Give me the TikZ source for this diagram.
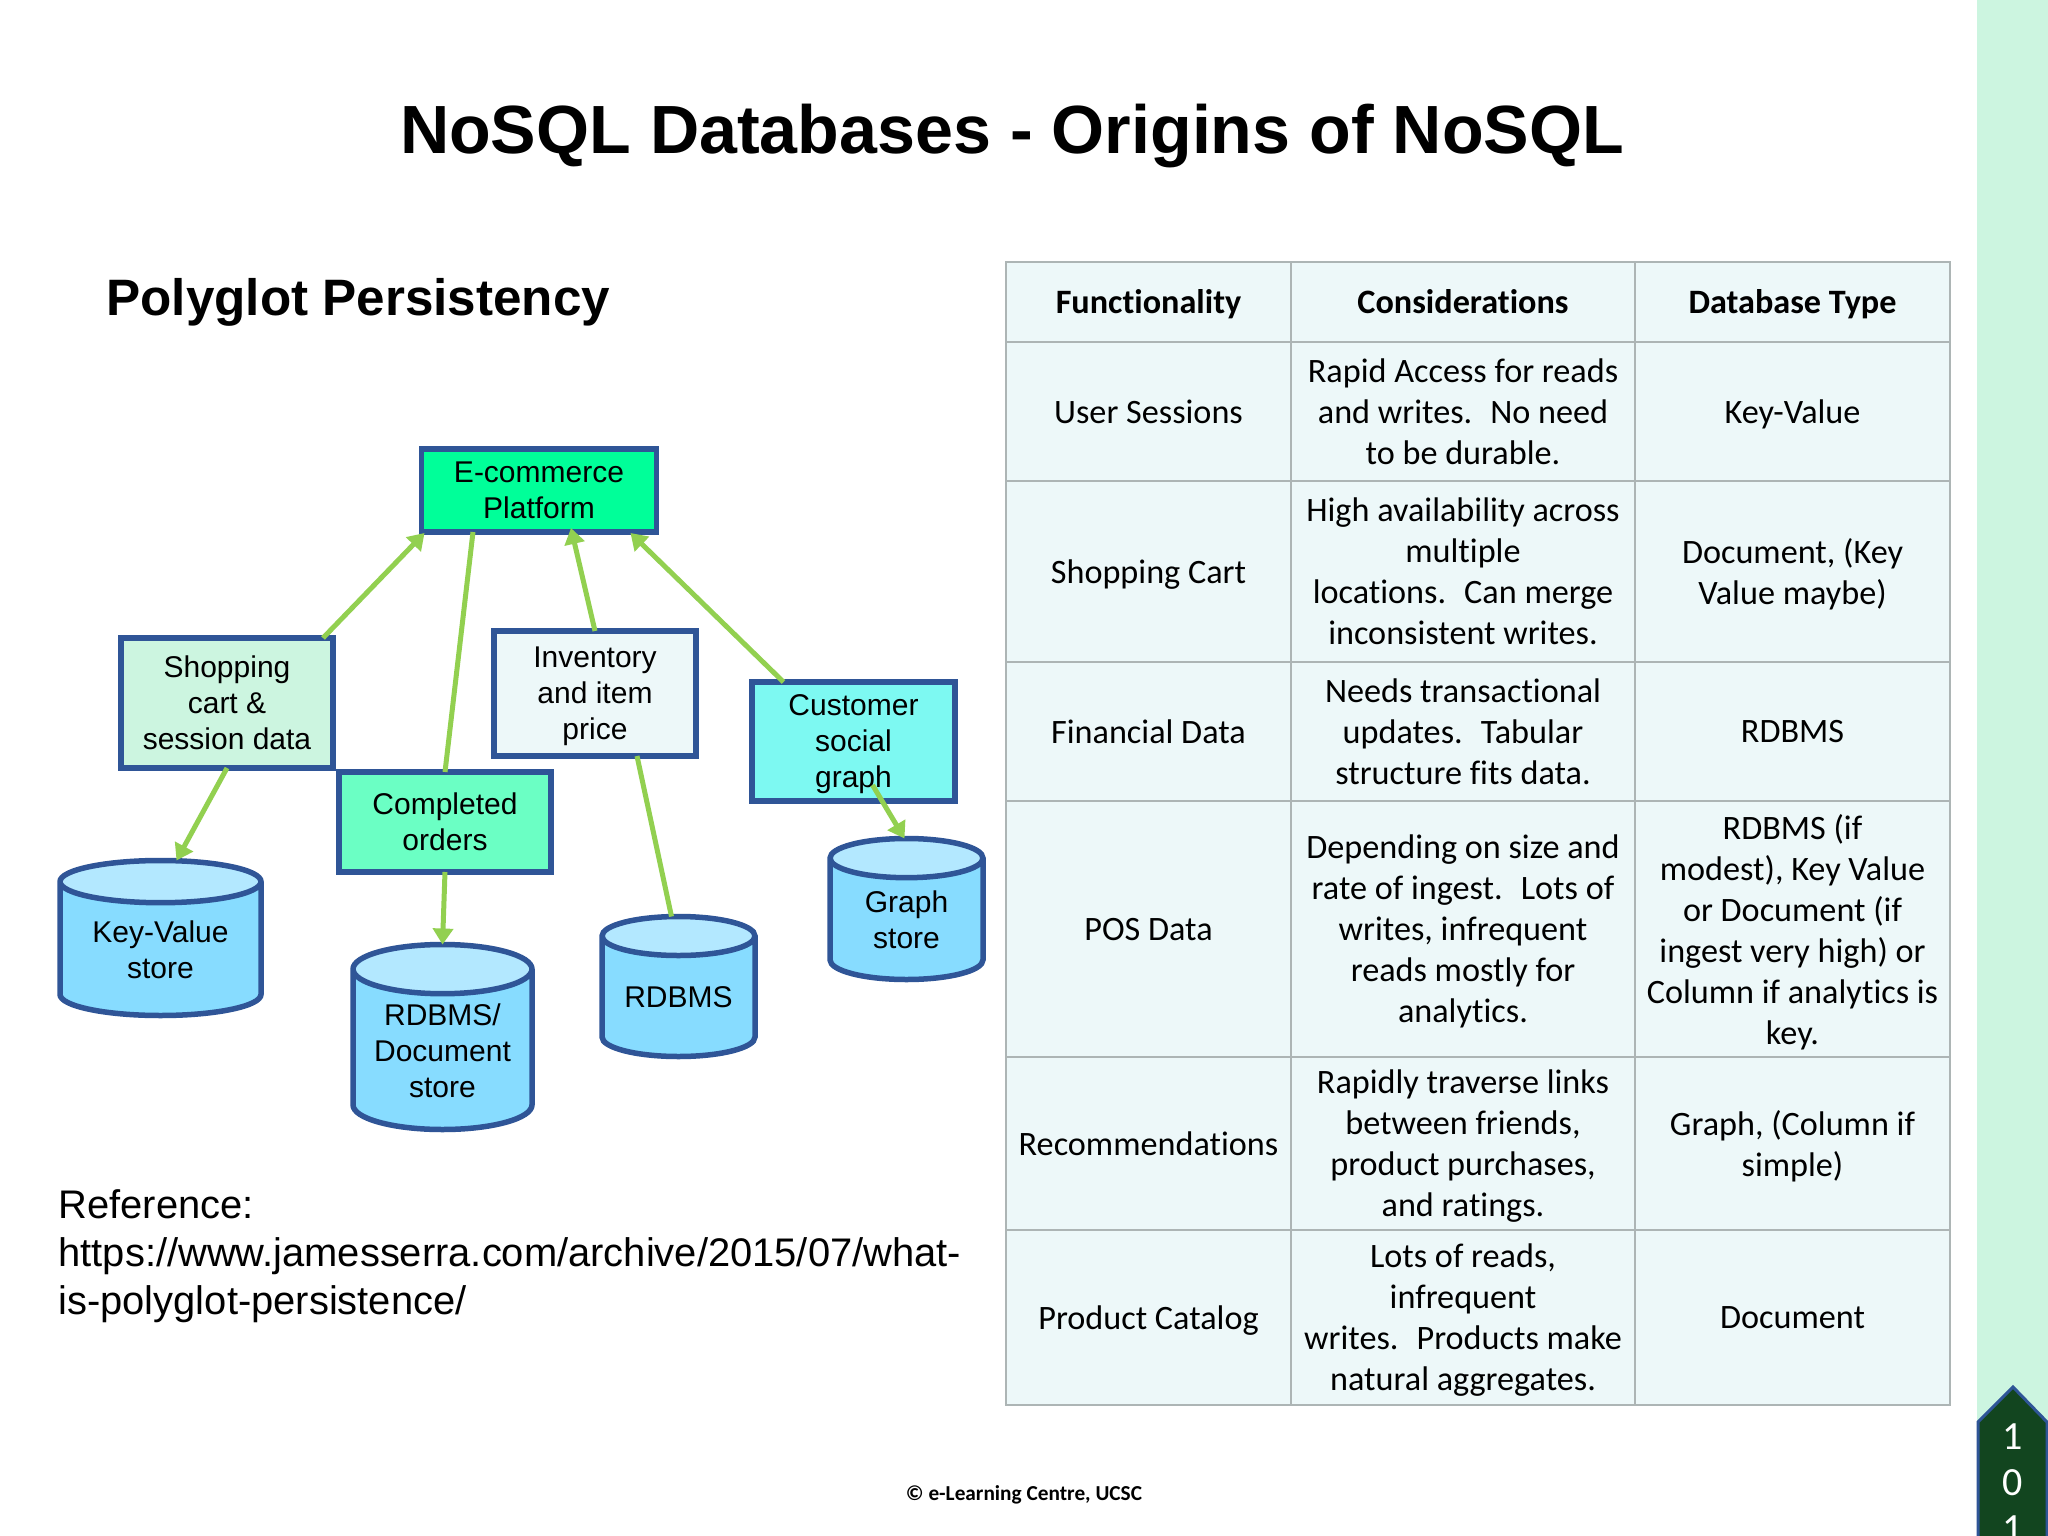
\documentclass[tikz,border=0pt]{standalone}
\usepackage{fontspec}
\usetikzlibrary{shapes.geometric,arrows.meta}
\setmainfont{Liberation Sans}
\newfontfamily\carlito[Ligatures=NoCommon]{Carlito}

\definecolor{edgeblue}{HTML}{2F5597}
\definecolor{linkgreen}{HTML}{92D050}
\definecolor{rulegrey}{HTML}{ADB5B5}
\definecolor{cellfill}{HTML}{EDF8F9}
\definecolor{barfill}{HTML}{CCF5E0}
\definecolor{badgefill}{HTML}{12451F}
\definecolor{storebody}{HTML}{87DCFF}
\definecolor{storetop}{HTML}{B3E8FF}

\tikzset{
  box/.style={draw=edgeblue, line width=5.5pt, rectangle, align=center, inner sep=0pt, outer sep=0pt,
    text depth=-4pt, font=\fontsize{30}{36}\selectfont},
  store/.style={draw=edgeblue, line width=5.5pt, cylinder, shape border rotate=90, anchor=shape center,
    cylinder uses custom fill, cylinder body fill=storebody, cylinder end fill=storetop,
    align=center, inner sep=0pt, outer sep=0pt,
    font=\fontsize{30}{36}\selectfont},
  link/.style={draw=linkgreen, line width=5pt},
  linkarrow/.style={link, -{Triangle[length=16pt,width=20pt]}},
  cell/.style={draw=rulegrey, line width=2.5pt, fill=cellfill, rectangle, align=center, inner sep=0pt,
    text depth=-4pt, font=\carlito\fontsize{34.2}{41}\selectfont},
  colone/.style={cell, minimum width=285pt},
  coltwo/.style={cell, minimum width=344pt},
  colthree/.style={cell, minimum width=315pt},
  head/.style={font=\carlito\bfseries\fontsize{34.2}{41}\selectfont}
}

\begin{document}
\begin{tikzpicture}[x=1pt, y=-1pt]
\useasboundingbox (0, 0) rectangle (2048, 1536);
\fill[white] (0, 0) rectangle (2048, 1536);
\fill[barfill] (1977, 0) rectangle (2048, 1536);

% title and texts
\node[font=\bfseries\fontsize{68.2}{78}\selectfont] (title) at (1012, 136) {NoSQL Databases - Origins of NoSQL};
\node[font=\bfseries\fontsize{51.2}{60}\selectfont, anchor=west] (subtitle) at (103, 302) {Polyglot Persistency};
\node[font=\fontsize{39.9}{47.7}\selectfont, anchor=west, align=left] (reference) at (55, 1256)
  {Reference:\\https://www.jamesserra.com/archive/2015/07/what-\\is-polyglot-persistence/};
\node[font=\carlito\bfseries\fontsize{21.3}{25}\selectfont] (footer) at (1024, 1495) {© e-Learning Centre, UCSC};

% boxes
\node[box, fill={rgb,255:red,0;green,255;blue,153}, minimum width=235pt, minimum height=83pt] (ecommerce) at (539, 490.5) {E-commerce\\Platform};
\node[box, fill=barfill, minimum width=212pt, minimum height=130pt] (shopping) at (227, 703) {Shopping\\cart \&\\session data};
\node[box, fill={rgb,255:red,107;green,255;blue,196}, minimum width=212pt, minimum height=100pt] (completed) at (445, 822) {Completed\\orders};
\node[box, fill=cellfill, minimum width=202pt, minimum height=125pt] (inventory) at (595, 693.5) {Inventory\\and item\\price};
\node[box, fill={rgb,255:red,125;green,249;blue,242}, minimum width=203pt, minimum height=119pt] (customer) at (853.5, 741.5) {Customer\\social\\graph};

% stores
\node[store, aspect=0.31, minimum width=201pt, minimum height=155pt] (keyvalue) at (160.5, 938) {Key-Value\\store};
\node[store, aspect=0.36, minimum width=179pt, minimum height=185pt] (document) at (442.5, 1037) {RDBMS/\\Document\\store};
\node[store, aspect=0.36, minimum width=153pt, minimum height=140pt] (rdbms) at (678.5, 986.5) {RDBMS};
\node[store, aspect=0.47, minimum width=153pt, minimum height=141pt] (graph) at (906.5, 909) {Graph\\store};

% connectors
\draw[linkarrow] ([xshift=-10pt]shopping.north east) -- ([xshift=3pt, yshift=-1pt]ecommerce.south west);
\draw[link] ([xshift=-66pt]ecommerce.south) -- (completed.north);
\draw[linkarrow] (inventory.north) -- ([xshift=32pt, yshift=4pt]ecommerce.south);
\draw[linkarrow] ([xshift=-70pt]customer.north) -- ([xshift=-26pt, yshift=-1pt]ecommerce.south east);
\draw[linkarrow] (shopping.south) -- ([xshift=16pt]keyvalue.top);
\draw[linkarrow] (completed.south) -- (document.top);
\draw[link] ([xshift=42pt]inventory.south) -- ([xshift=-7pt]rdbms.top);
\draw[linkarrow] ([xshift=19pt, yshift=16pt]customer.south) -- ([xshift=-2pt]graph.top);

% table
\node[colone, head, minimum height=80pt] (funchead) at (1148.5, 302) {Functionality};
\node[coltwo, head, minimum height=80pt] (conshead) at (1463, 302) {Considerations};
\node[colthree, head, minimum height=80pt] (typehead) at (1792.5, 302) {Database Type};
\node[colone, minimum height=139pt] (funcone) at (1148.5, 411.5) {User Sessions};
\node[coltwo, minimum height=139pt] (consone) at (1463, 411.5) {Rapid Access for reads\\and writes.~ No need\\to be durable.};
\node[colthree, minimum height=139pt] (typeone) at (1792.5, 411.5) {Key-Value};
\node[colone, minimum height=181pt] (functwo) at (1148.5, 571.5) {Shopping Cart};
\node[coltwo, minimum height=181pt] (constwo) at (1463, 571.5) {High availability across\\multiple\\locations.~ Can merge\\inconsistent writes.};
\node[colthree, minimum height=181pt] (typetwo) at (1792.5, 571.5) {Document, (Key\\Value maybe)};
\node[colone, minimum height=139pt] (functhree) at (1148.5, 731.5) {Financial Data};
\node[coltwo, minimum height=139pt] (consthree) at (1463, 731.5) {Needs transactional\\updates.~ Tabular\\structure fits data.};
\node[colthree, minimum height=139pt] (typethree) at (1792.5, 731.5) {RDBMS};
\node[colone, minimum height=256pt] (funcfour) at (1148.5, 929) {POS Data};
\node[coltwo, minimum height=256pt] (consfour) at (1463, 929) {Depending on size and\\rate of ingest.~ Lots of\\writes, infrequent\\reads mostly for\\analytics.};
\node[colthree, minimum height=256pt] (typefour) at (1792.5, 929) {RDBMS (if\\modest), Key Value\\or Document (if\\ingest very high) or\\Column if analytics is\\key.};
\node[colone, minimum height=173pt] (funcfive) at (1148.5, 1143.5) {Recommendations};
\node[coltwo, minimum height=173pt] (consfive) at (1463, 1143.5) {Rapidly traverse links\\between friends,\\product purchases,\\and ratings.};
\node[colthree, minimum height=173pt] (typefive) at (1792.5, 1143.5) {Graph, (Column if\\simple)};
\node[colone, minimum height=175pt] (funcsix) at (1148.5, 1317.5) {Product Catalog};
\node[coltwo, minimum height=175pt] (conssix) at (1463, 1317.5) {Lots of reads,\\infrequent\\writes.~ Products make\\natural aggregates.};
\node[colthree, minimum height=175pt] (typesix) at (1792.5, 1317.5) {Document};

% page badge
\draw[draw=edgeblue, fill=badgefill, line width=3pt] (1978, 1540) -- (1978, 1422) -- (2013, 1387) -- (2047, 1422) -- (2047, 1540) -- cycle;
\node[text=white, align=center, anchor=north, font=\carlito\fontsize{40}{46}\selectfont] (pagenum) at (2013, 1420) {1\\0\\1};
\end{tikzpicture}
\end{document}
